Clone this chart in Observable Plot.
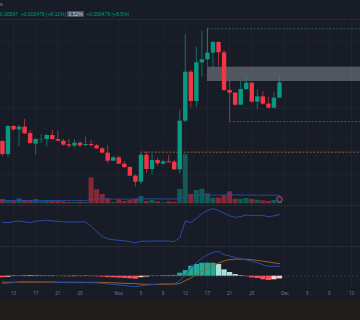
<!DOCTYPE html>
<html><head><meta charset="utf-8">
<script src="https://cdn.jsdelivr.net/npm/d3@7"></script>
<script src="https://cdn.jsdelivr.net/npm/@observablehq/plot@0.6"></script>
<style>
html,body{margin:0;padding:0;background:#181c27;}
#chart{position:relative;width:360px;height:320px;overflow:hidden;background:#181c27;font-family:"Liberation Sans",Arial,sans-serif;}
#chart svg{position:absolute;left:0;}
.hdr{position:absolute;left:0;top:10.5px;font-size:5px;color:#089981;white-space:nowrap;}
.hdr .b{background:#4a4e59;color:#d1d4dc;padding:0 1px;}
.top{position:absolute;left:0;top:1px;font-size:5px;color:#9598a1;}
.sep{position:absolute;left:0;width:360px;height:1px;background:#262a35;}
.foot{position:absolute;left:0;top:299px;width:360px;height:21px;background:#1f1e1c;}
</style></head><body><div id="chart"></div>
<script>
// ---- data ----
const startDay = "2023-10-11"; // first candle, one per day through Nov 30
const open  = [0.00461,0.00422,0.00506,0.00496,0.00504,0.00485,0.00453,0.00466,0.00467,0.00479,0.00467,0.00462,0.00451,0.00447,0.00456,0.00449,0.00452,0.00448,0.00439,0.00426,0.00402,0.00412,0.00393,0.00383,0.00357,0.00339,0.00420,0.00377,0.00404,0.00393,0.00400,0.00399,0.00376,0.00522,0.00669,0.00581,0.00697,0.00706,0.00726,0.00758,0.00727,0.00614,0.00606,0.00570,0.00617,0.00636,0.00579,0.00595,0.00573,0.00561,0.00591];
const high  = [0.00464,0.00509,0.00509,0.00509,0.00527,0.00494,0.00470,0.00482,0.00482,0.00494,0.00492,0.00467,0.00467,0.00467,0.00458,0.00475,0.00464,0.00452,0.00443,0.00448,0.00416,0.00416,0.00401,0.00386,0.00362,0.00425,0.00429,0.00424,0.00411,0.00404,0.00419,0.00404,0.00554,0.00782,0.00674,0.00744,0.00792,0.00799,0.00761,0.00761,0.00734,0.00644,0.00608,0.00641,0.00656,0.00638,0.00616,0.00611,0.00594,0.00609,0.00656];
const low   = [0.00416,0.00413,0.00491,0.00446,0.00482,0.00452,0.00420,0.00455,0.00444,0.00464,0.00461,0.00447,0.00440,0.00440,0.00443,0.00446,0.00443,0.00437,0.00423,0.00394,0.00401,0.00392,0.00380,0.00356,0.00324,0.00332,0.00365,0.00360,0.00386,0.00389,0.00396,0.00374,0.00364,0.00518,0.00562,0.00562,0.00654,0.00704,0.00674,0.00687,0.00611,0.00521,0.00566,0.00569,0.00614,0.00576,0.00556,0.00570,0.00559,0.00559,0.00590];
const close = [0.00422,0.00506,0.00496,0.00504,0.00484,0.00455,0.00467,0.00467,0.00479,0.00467,0.00462,0.00450,0.00447,0.00456,0.00448,0.00452,0.00449,0.00439,0.00426,0.00402,0.00412,0.00393,0.00383,0.00357,0.00339,0.00420,0.00377,0.00404,0.00394,0.00400,0.00397,0.00376,0.00522,0.00669,0.00581,0.00697,0.00706,0.00726,0.00758,0.00727,0.00614,0.00606,0.00570,0.00617,0.00636,0.00579,0.00595,0.00573,0.00561,0.00591,0.00637];
const volume = [4300,3300,2600,5000,3300,2600,4300,2000,2600,2300,2300,2000,1300,1300,1600,1300,26000,14000,9300,5000,1300,4000,2300,3300,4600,7300,2300,3300,2000,1000,2000,1600,14300,49000,9300,13300,14600,10000,5600,5600,8300,12000,4600,4600,5300,4300,3600,3000,2300,3300,2300];
const volumeMA = [3200,3200,3200,3300,3300,3300,3200,3200,3200,3300,3300,3200,3200,3200,3200,3100,4200,4600,4800,4800,4700,4700,4700,4700,4800,5000,4900,4900,4900,4800,4800,4800,5300,7600,8500,8600,8700,8800,8700,8700,8800,8900,8900,8800,8800,8700,8600,8600,8600,8700,8700];
const oscillator = [24.2,23.8,25,25.5,24.7,23.7,25.3,25.8,26.3,25.5,25.1,24.7,24.4,24.6,24.7,24.7,20.3,15,10,7.6,6.8,6.2,5.7,4.7,3.7,5.2,5.3,5.4,5.6,5.6,5.3,5,8.5,25.5,24,28,32.7,36,37.8,36,33.2,30.7,29.2,29.8,31.5,31,30.8,31,29.8,30.7,31.8];
const macdHist = [-1.5,-1.0,-0.3,0.5,0.8,0.6,0.4,0.3,0.5,0.3,-0.2,-0.4,-0.5,-0.4,-0.4,-0.3,-0.4,-0.6,-0.9,-1.4,-1.6,-1.9,-2.2,-2.6,-3.0,-1.5,-0.8,-0.2,0.3,0.6,0.7,0.8,3.0,5.5,10,11.7,13,13,13,11.7,6.3,3.7,1.7,0.5,-0.5,-1.7,-2.3,-3.6,-4.3,-3.6,-2.7];
const macdLine = [-7.5,-7,-6.3,-5.5,-5.2,-5.3,-5.5,-5.6,-5.4,-5.6,-6.2,-6.4,-6.5,-6.4,-6.5,-6.4,-6.5,-6.7,-7.1,-7.8,-8.2,-8.8,-9.3,-9.9,-10.4,-9.4,-8.9,-8.4,-7.9,-7.5,-7.3,-7.1,-4.2,1.2,8,13.5,18,21.3,23.8,24.6,21.5,20.3,18.7,17.6,16.4,14.8,13.5,11.5,10,9.8,9.8];
const signalLine = [-6,-6,-6,-6,-6,-5.9,-5.9,-5.9,-5.9,-5.9,-6,-6,-6,-6,-6.1,-6.1,-6.1,-6.1,-6.2,-6.4,-6.6,-6.9,-7.1,-7.3,-7.4,-7.9,-8.1,-8.2,-8.2,-8.1,-8,-7.9,-7.2,-4.3,-2,1.8,5,8.3,10.8,12.9,15.2,16.6,17,17.1,16.9,16.5,15.8,15.1,14.3,13.4,12.5];
const tickDates  = ["2023-10-13","2023-10-17","2023-10-21","2023-10-25","2023-11-01","2023-11-05","2023-11-09","2023-11-13","2023-11-17","2023-11-21","2023-11-25","2023-12-01","2023-12-05","2023-12-09","2023-12-13"];
const tickLabels = ["13","17","21","25","Nov","5","9","13","17","21","25","Dec","5","9","13"];
const gridPrices = [0.0036,0.0046,0.0056,0.0066,0.0076];
// drawn levels
const zone = {start:"2023-11-17", end:"2023-12-31", top:0.00684, bottom:0.00641};
const levelStarts = ["2023-11-17","2023-11-21","2023-11-05"];
const levelPrices = [0.00799,0.00521,0.00429];
const levelColors = ["#2f6b4c","#2f6b4c","#9a6a2a"];

// ---- build ----
const U = s => new Date(s + "T00:00:00Z");
const days = d3.utcDay.range(U(startDay), d3.utcDay.offset(U(startDay), open.length));
const candles = days.map((date,i)=>({date, open:open[i], high:high[i], low:low[i], close:close[i],
  volume:volume[i], ma:volumeMA[i], osc:oscillator[i], hist:macdHist[i], macd:macdLine[i], signal:signalLine[i],
  up: close[i] >= open[i]}));
const histColor = candles.map((d,i)=>{
  const p = i>0 ? candles[i-1].hist : d.hist;
  if (d.hist >= 0) return d.hist >= p ? "#22ab94" : "#acdfd8";
  return d.hist <= p ? "#f7525f" : "#fccbcd";
});
candles.forEach((d,i)=>d.hc = histColor[i]);
const ticks = tickDates.map((t,i)=>({date:U(t), label:tickLabels[i]}));
const levels = levelPrices.map((p,i)=>({x1:U(levelStarts[i]), x2:U("2023-12-31"), y:p, c:levelColors[i]}));
const UP="#089981", DN="#f23645";
const xs = {type:"utc", domain:[U("2023-10-13"),U("2023-12-13")], range:[13,351], axis:null};
const base = {width:360, margin:0, style:{background:"transparent", overflow:"hidden"}};
const chart = document.getElementById("chart");
function add(svg, top){ svg.style.top = top+"px"; chart.appendChild(svg); }
const vgrid = Plot.ruleX(ticks, {x:"date", stroke:"#1f2330", strokeWidth:1});

// price pane
add(Plot.plot({...base, height:186, x:xs, y:{domain:[0.00269,0.00827], range:[186,0], axis:null},
  marks:[
    vgrid,
    Plot.ruleY(gridPrices, {stroke:"#1f2330"}),
    Plot.rect([zone], {x1:d=>U(d.start), x2:d=>U(d.end), y1:"bottom", y2:"top", fill:"#a3a6af", fillOpacity:0.42}),
    Plot.ruleY(levels, {x1:"x1", x2:"x2", y:"y", stroke:"c", strokeDasharray:"2,1.6", strokeWidth:0.9}),
    Plot.ruleX([{x:U(zone.start), y1:levelPrices[0], y2:zone.top}], {x:"x", y1:"y1", y2:"y2", stroke:"#2f6b4c", strokeWidth:0.8}),
    Plot.ruleX(candles, {x:"date", y1:"low", y2:"high", stroke:d=>d.up?UP:DN, strokeWidth:0.9, strokeOpacity:0.75}),
    Plot.ruleX(candles, {x:"date", y1:"open", y2:"close", stroke:d=>d.up?UP:DN, strokeWidth:4.4})
  ]}), 19);

// volume overlay
add(Plot.plot({...base, height:186, x:xs, y:{domain:[0,184300], range:[184.3,0], axis:null},
  marks:[
    Plot.ruleX(candles, {x:"date", y1:0, y2:"volume", stroke:d=>d.up?UP:DN, strokeOpacity:0.5, strokeWidth:5}),
    Plot.line(candles, {x:"date", y:"ma", stroke:"#2b4aa8", strokeWidth:0.9}),
    Plot.dot([candles[candles.length-1]], {x:"date", y:4600, r:2.8, stroke:"#b0567a", strokeWidth:0.9, fill:"#2a2530"})
  ]}), 19);

// oscillator pane
add(Plot.plot({...base, height:41, x:xs, y:{domain:[0,41], range:[41,0], axis:null},
  marks:[ vgrid, Plot.line(candles, {x:"date", y:"osc", stroke:"#2b4aa8", strokeWidth:1}) ]}), 205);

// MACD pane
add(Plot.plot({...base, height:42, x:xs, y:{domain:[-12.3,29.7], range:[42,0], axis:null},
  marks:[
    vgrid,
    Plot.ruleY([0], {stroke:"#3a3e4a", strokeDasharray:"2,2", strokeWidth:0.8}),
    Plot.ruleX(candles, {x:"date", y1:0, y2:"hist", stroke:"hc", strokeWidth:5.3}),
    Plot.line(candles, {x:"date", y:"signal", stroke:"#a55e22", strokeWidth:1, curve:"monotone-x"}),
    Plot.line(candles, {x:"date", y:"macd", stroke:"#2b4aa8", strokeWidth:1, curve:"monotone-x"})
  ]}), 246);

// time axis
add(Plot.plot({...base, height:11, x:xs, y:{axis:null},
  marks:[ Plot.text(ticks, {x:"date", text:"label", frameAnchor:"middle", fill:"#787b86", fontSize:4.5}) ]}), 288);

// header & chrome
const hdr = document.createElement("div"); hdr.className="hdr";
hdr.innerHTML = '0.00597 &nbsp;+0.000479 (+8.11%) <span class="b">0.52%</span> &nbsp;+0.000479 (+8.5%)';
chart.appendChild(hdr);
const tp = document.createElement("div"); tp.className="top"; tp.textContent="s"; chart.appendChild(tp);
[19,205,246].forEach(y=>{const s=document.createElement("div"); s.className="sep"; s.style.top=y+"px"; chart.appendChild(s);});
const ft = document.createElement("div"); ft.className="foot"; chart.appendChild(ft);
</script></body></html>
